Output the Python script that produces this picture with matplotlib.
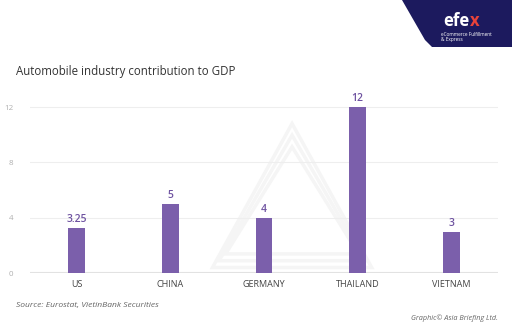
import matplotlib.pyplot as plt
from matplotlib.patches import Polygon

plt.rcParams["font.family"] = ["Open Sans", "DejaVu Sans"]

# Data
countries = ["US", "CHINA", "GERMANY", "THAILAND", "VIETNAM"]
contribution = [3.25, 5, 4, 12, 3]
value_labels = ["3.25", "5", "4", "12", "3"]
yticks = [0, 4, 8, 12]

bar_color = "#7b5fab"
label_color = "#6e52a0"

fig = plt.figure(figsize=(5.12, 3.33), dpi=100)
fig.patch.set_facecolor("white")

# plot area: x 30..498 px, y 0 at 273 px, 12 at 107 px
ax = fig.add_axes([30 / 512, (333 - 273) / 333, 468 / 512, (273 - 107) / 333 * 14 / 12])
ax.set_xlim(-0.5, 4.5)
ax.set_ylim(0, 14)

x = range(len(countries))
ax.bar(x, contribution, width=0.18, color=bar_color, zorder=3)

for xi, v, lab in zip(x, contribution, value_labels):
    ax.text(xi, v + 0.2, lab, ha="center", va="bottom", fontsize=7.5,
            fontweight="semibold", color=label_color, zorder=4)

ax.set_yticks(yticks)
ax.set_yticklabels([str(t) for t in yticks])
ax.tick_params(axis="y", length=0, labelsize=5.8, labelcolor="#b0b0b0", pad=12)
ax.set_xticks(list(x))
ax.set_xticklabels(countries)
ax.tick_params(axis="x", length=0, labelsize=6.5, labelcolor="#444444", pad=5)

ax.grid(axis="y", color="#eeeeee", linewidth=0.8, zorder=0)
ax.axhline(0, color="#e2e2e2", linewidth=1.5, zorder=2)
for s in ax.spines.values():
    s.set_visible(False)

# faint watermark triangle behind bars
for k in range(3):
    d = k * 0.07
    tri = Polygon([[1.45 + d, 0.4 + d * 7], [3.15 - d, 0.4 + d * 7], [2.3, 10.8 - d * 12]],
                  closed=True, fill=False, edgecolor="#f5f5f5", linewidth=2.5, zorder=1)
    ax.add_patch(tri)

# title and footnotes
fig.text(16 / 512, 1 - 72 / 333, "Automobile industry contribution to GDP",
         fontsize=8.3, color="#333333", va="center", ha="left")
fig.text(16 / 512, 1 - 305 / 333, "Source: Eurostat, VietinBank Securities",
         fontsize=6.1, color="#666666", style="italic", va="center", ha="left")
fig.text(498 / 512, 1 - 318 / 333, "Graphic© Asia Briefing Ltd.",
         fontsize=5.2, color="#666666", style="italic", va="center", ha="right")

# brand badge in the top-right corner
badge = Polygon([[402 / 512, 1.0], [512 / 512, 1.0], [512 / 512, 1 - 47 / 333],
                 [432 / 512, 1 - 47 / 333], [425 / 512, 1 - 40 / 333]],
                closed=True, transform=fig.transFigure, facecolor="#1c1a5e",
                edgecolor="none", zorder=5)
fig.patches.append(badge)
fig.text(443 / 512, 1 - 21 / 333, "efe", fontsize=12, fontweight="bold",
         color="white", va="center", ha="left", zorder=6)
fig.text(470 / 512, 1 - 21 / 333, "x", fontsize=12, fontweight="bold",
         color="#e8433a", va="center", ha="left", zorder=6)
fig.text(441 / 512, 1 - 34 / 333, "eCommerce Fulfillment", fontsize=3.4,
         color="white", va="center", ha="left", zorder=6)
fig.text(441 / 512, 1 - 40 / 333, "& Express", fontsize=3.4,
         color="white", va="center", ha="left", zorder=6)

fig.savefig("out.png", dpi=100)
